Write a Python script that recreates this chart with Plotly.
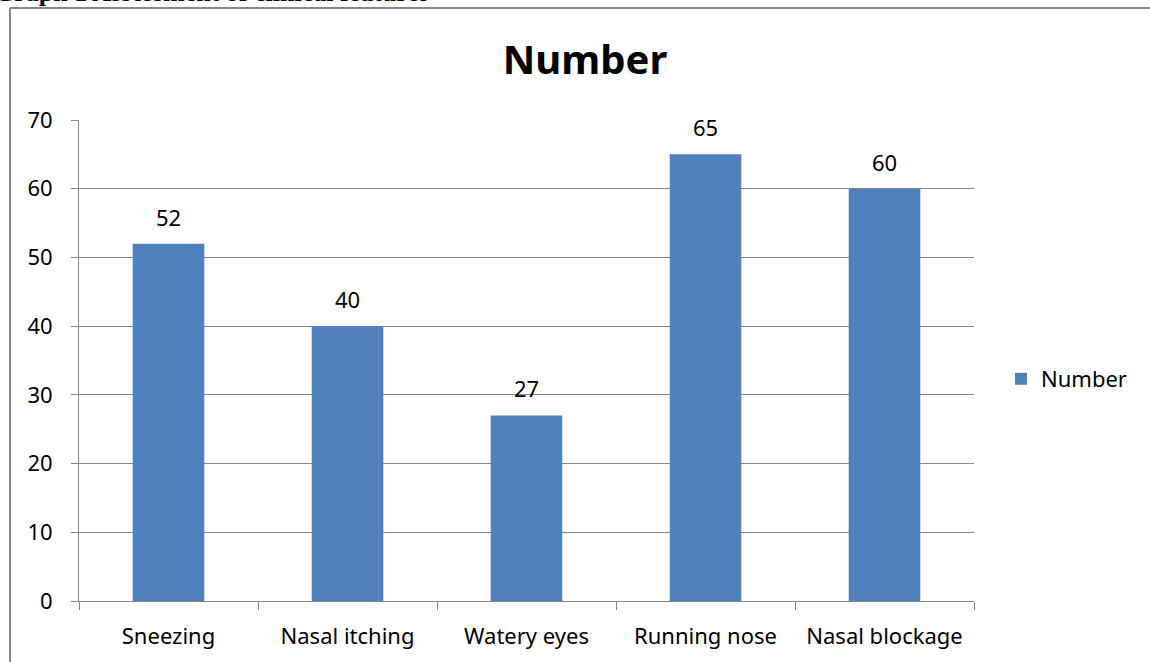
import plotly.graph_objects as go

categories = ["Sneezing", "Nasal itching", "Watery eyes", "Running nose", "Nasal blockage"]
values = [52, 40, 27, 65, 60]
series_name = "Number"
y_ticks = [0, 10, 20, 30, 40, 50, 60, 70]

W, H = 1150, 662
L, R, T, B = 79, 974, 120, 601

def px_x(p):
    return (p - L) / (R - L)

def px_y(p):
    return (B - p) / (B - T)

FONT = "Noto Sans"
GRAY = "#868686"

fig = go.Figure()
fig.add_trace(go.Bar(
    x=categories, y=values, name=series_name,
    marker=dict(color="#4F81BD", line=dict(width=0)),
    showlegend=True,
))

# data labels above bars
for c, v in zip(categories, values):
    fig.add_annotation(x=c, y=v, xref="x", yref="y", text=str(v),
                       showarrow=False, yanchor="middle", yshift=27,
                       font=dict(family=FONT, size=22, color="#000000"))

fig.update_layout(
    width=W, height=H,
    margin=dict(l=L, r=W - R, t=T, b=H - B, pad=0),
    paper_bgcolor="white", plot_bgcolor="white",
    bargap=0.6,
    title=dict(text="<b>Number</b>", x=585 / W, xanchor="center",
               y=1 - 60 / H, yanchor="middle",
               font=dict(family=FONT, size=40, color="#000000")),
    font=dict(family=FONT, size=22, color="#000000"),
    showlegend=True,
    legend=dict(x=px_x(1001), y=px_y(379), xanchor="left", yanchor="middle",
                font=dict(family=FONT, size=22, color="#000000"),
                bgcolor="rgba(0,0,0,0)", itemwidth=30),
    xaxis=dict(showline=True, linecolor=GRAY, linewidth=1,
               ticks="outside", ticklen=8, tickcolor=GRAY,
               tickson="boundaries", showgrid=False,
               ticklabelstandoff=16,
               tickfont=dict(family=FONT, size=22, color="#000000")),
    yaxis=dict(range=[0, 70], tickvals=y_ticks, showline=True, linecolor=GRAY,
               linewidth=1, ticks="outside", ticklen=7, tickcolor=GRAY,
               showgrid=True, gridcolor=GRAY, gridwidth=1, zeroline=False,
               ticklabelstandoff=14,
               tickfont=dict(family=FONT, size=22, color="#000000")),
)

# outer chart border (top and left visible)
fig.add_shape(type="line", xref="paper", yref="paper",
              x0=px_x(10), x1=px_x(1160), y0=px_y(8), y1=px_y(8),
              line=dict(color=GRAY, width=2))
fig.add_shape(type="line", xref="paper", yref="paper",
              x0=px_x(10), x1=px_x(10), y0=px_y(8), y1=px_y(680),
              line=dict(color=GRAY, width=2))

# cut-off caption at the very top
fig.add_annotation(text="<b>Graph 1 Assessment of clinical features</b>",
                   xref="paper", yref="paper", x=px_x(431), y=px_y(9),
                   xanchor="right", yanchor="bottom", showarrow=False,
                   font=dict(family="Liberation Serif", size=26, color="#000000"))

fig.write_html("out.html")
